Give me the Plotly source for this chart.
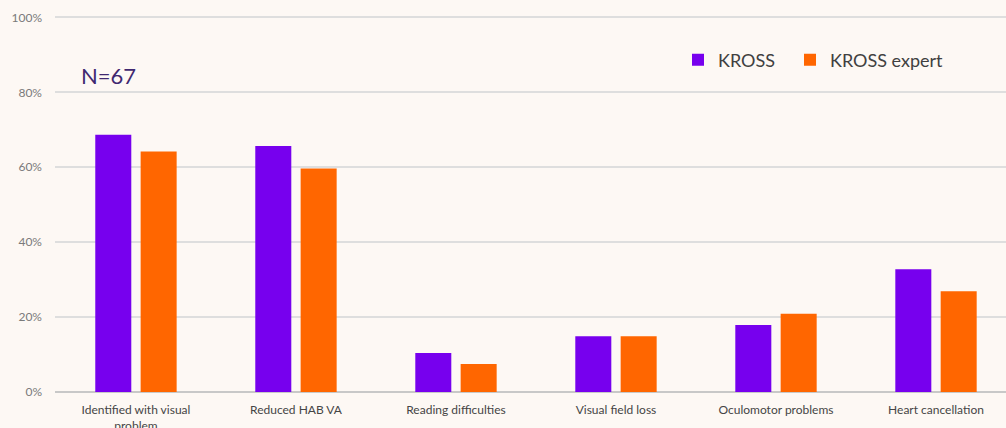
import plotly.graph_objects as go

categories = [
    "Identified with visual<br>problem",
    "Reduced HAB VA",
    "Reading difficulties",
    "Visual field loss",
    "Oculomotor problems",
    "Heart cancellation",
]
kross = [68.7, 65.7, 10.4, 14.9, 17.9, 32.8]
kross_expert = [64.2, 59.7, 7.5, 14.9, 20.9, 26.9]
y_ticks = [0, 20, 40, 60, 80, 100]

W, H = 1006, 428
ML, MR, MT, MB = 55, 0, 10, 36
plot_w = W - ML - MR
plot_h = H - MT - MB

BG = "#FDF8F4"
PURPLE = "#7700EE"
ORANGE = "#FF6600"
FONT = "Lato"

def px_x(p):
    return (p - ML) / plot_w

def px_y(p):
    return (H - MB - p) / plot_h

fig = go.Figure()
fig.add_trace(go.Bar(name="KROSS", x=categories, y=kross, marker_color=PURPLE,
                     marker_line_width=0, legend="legend"))
fig.add_trace(go.Bar(name="KROSS expert", x=categories, y=kross_expert,
                     marker_color=ORANGE, marker_line_width=0, legend="legend2"))

legend_common = dict(
    orientation="h", xanchor="left", yanchor="middle",
    bgcolor="rgba(0,0,0,0)", font=dict(size=18, color="#404040", family=FONT),
    itemclick=False,
)

fig.update_layout(
    width=W, height=H,
    margin=dict(l=ML, r=MR, t=MT, b=MB, pad=0, autoexpand=False),
    paper_bgcolor=BG, plot_bgcolor=BG,
    barmode="group", bargap=0.433, bargroupgap=0.206,
    font=dict(family=FONT, color="#404040"),
    showlegend=True,
    legend=dict(x=px_x(678), y=px_y(60), **legend_common),
    legend2=dict(x=px_x(790), y=px_y(60), **legend_common),
    annotations=[dict(
        text="N=67", xref="paper", yref="paper", x=px_x(79), y=px_y(75),
        xanchor="left", yanchor="middle", showarrow=False,
        font=dict(size=22, color="#402870", family=FONT),
    )],
)
fig.update_xaxes(
    range=[-0.506, 5.4375], showgrid=False, showline=False, ticks="",
    ticklabelstandoff=9, automargin=False,
    tickfont=dict(size=12, color="#454545", family=FONT),
)
fig.update_yaxes(
    range=[0, 102], tickvals=y_ticks, ticktext=[f"{v}%" for v in y_ticks],
    showgrid=True, gridcolor="#DEDEDE", gridwidth=1.5,
    zeroline=True, zerolinecolor="#C8C8C8", zerolinewidth=1.5,
    showline=False, ticks="", ticklabelstandoff=12, automargin=False,
    tickfont=dict(size=12, color="#7A7A7A", family=FONT),
)

fig.write_html("out.html")
